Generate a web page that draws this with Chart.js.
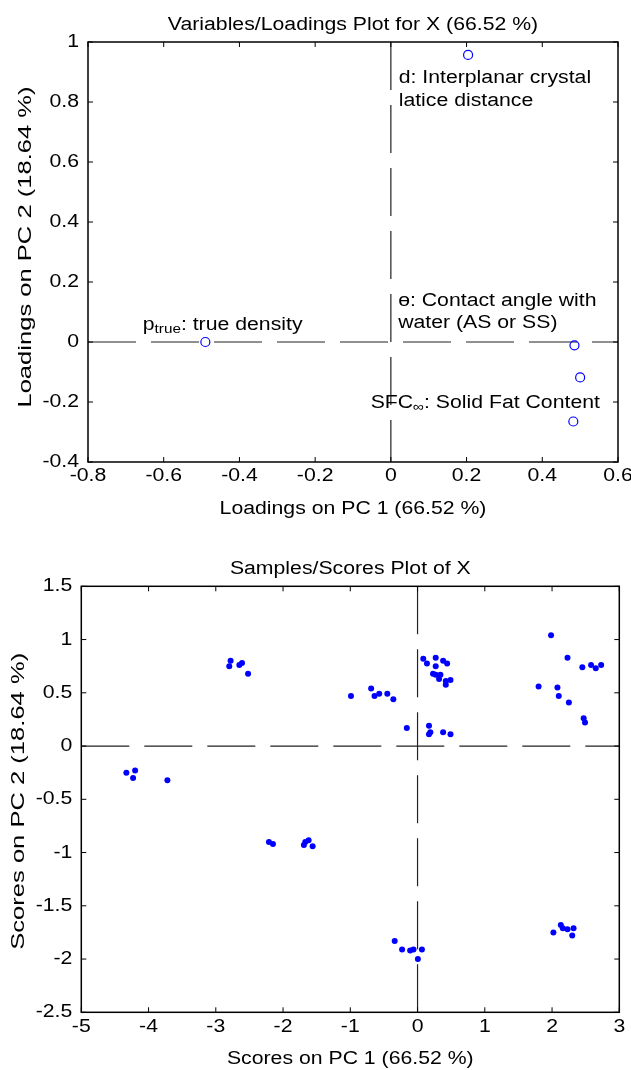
<!DOCTYPE html>
<html>
<head>
<meta charset="utf-8">
<script src="https://cdn.jsdelivr.net/npm/chart.js@4.4.0/dist/chart.umd.min.js"></script>
<style>
  body { margin: 0; background: #fff; }
  .wrap { position: absolute; left: 0; width: 631px; }
  #topWrap { top: 0; height: 530px; }
  #botWrap { top: 530px; height: 540px; }
</style>
</head>
<body>
<div class="wrap" id="topWrap"><canvas id="loadingsChart" width="631" height="530"></canvas></div>
<div class="wrap" id="botWrap"><canvas id="scoresChart" width="631" height="540"></canvas></div>

<script>
// ----- data: loadings -----
const loadingNames = ["p_{true}: true density", "d: Interplanar crystal\nlatice distance",
    "ɵ: Contact angle with\nwater (AS or SS)", "", "SFC_{∞}: Solid Fat Content"];
const loadingsPC1 = [-0.49, 0.204, 0.485, 0.50, 0.482];
const loadingsPC2 = [0.0, 0.957, -0.011, -0.118, -0.265];

// ----- data: scores -----
const scoresPC1 = [-4.33, -4.20, -4.23, -3.72, -2.78, -2.80, -2.65, -2.61, -2.52,
    -2.21, -2.15, -1.69, -1.67, -1.62, -1.56, -0.99, -0.69, -0.64, -0.57, -0.45,
    -0.36, -0.16, -0.34, -0.23, -0.11, -0.06, 0.065, 0.005, 0.085, 0.14, 0.27, 0.27,
    0.38, 0.44, 0.23, 0.27, 0.34, 0.32, 0.42, 0.42, 0.49, 0.17, 0.19, 0.17, 0.38,
    0.49, 1.985, 2.23, 2.45, 2.58, 2.65, 2.73, 1.80, 2.08, 2.10, 2.25, 2.47, 2.49,
    2.02, 2.13, 2.16, 2.23, 2.32, 2.30];
const scoresPC2 = [-0.25, -0.23, -0.30, -0.32, 0.80, 0.75, 0.76, 0.78, 0.68,
    -0.90, -0.92, -0.93, -0.90, -0.885, -0.94, 0.47, 0.54, 0.47, 0.49, 0.49,
    0.44, 0.17, -1.83, -1.91, -1.92, -1.91, -1.91, -2.00, 0.82, 0.775, 0.83, 0.75,
    0.80, 0.775, 0.68, 0.67, 0.67, 0.63, 0.61, 0.575, 0.62, 0.19, 0.13, 0.11, 0.13,
    0.11, 1.04, 0.83, 0.74, 0.76, 0.73, 0.76, 0.56, 0.55, 0.47, 0.41, 0.26, 0.22,
    -1.75, -1.68, -1.71, -1.72, -1.71, -1.78];

// axis ranges / tick steps
const loadXRange = [-0.8, 0.6], loadYRange = [-0.4, 1], loadStep = 0.2;
const scoreXRange = [-5, 3], scoreYRange = [-2.5, 1.5];
const scoreXStep = 1, scoreYStep = 0.5;

const FONT = '"Liberation Sans", Arial, Helvetica, sans-serif';
const FSIZE = 18;
const SX = 1.18;     // stretch of horizontal text in the original figure
const SY = 1.42;     // stretch of rotated text along its length
const TICK = 5;

function fmt(v) {
    return String(Math.round(v * 100) / 100);
}

// draws text that may contain _{sub} pieces, stretched along its length
function richText(ctx, str, x, y, align, size, stretch = SX) {
    const parts = [];
    str.replace(/([^_]+)|_\{([^}]*)\}/g, (m, normal, sub) => {
        if (normal) parts.push({ t: normal, sub: false });
        else parts.push({ t: sub, sub: true });
    });
    let total = 0;
    parts.forEach(p => {
        ctx.font = `${p.sub ? size * 0.72 : size}px ${FONT}`;
        p.w = ctx.measureText(p.t).width;
        total += p.w;
    });
    ctx.save();
    ctx.translate(x, y);
    ctx.scale(stretch, 1);
    let cx = align === "center" ? -total / 2 : align === "right" ? -total : 0;
    ctx.textAlign = "left";
    parts.forEach(p => {
        ctx.font = `${p.sub ? size * 0.72 : size}px ${FONT}`;
        ctx.fillText(p.t, cx, p.sub ? size * 0.2 : 0);
        cx += p.w;
    });
    ctx.restore();
}

const framePlugin = {
    id: "frame",
    afterDraw(chart, args, opts) {
        const { ctx, chartArea: a, scales: { x, y } } = chart;
        ctx.save();
        ctx.strokeStyle = "#000";
        ctx.lineWidth = 1;
        ctx.beginPath();
        x.ticks.forEach(t => {
            const px = x.getPixelForValue(t.value);
            ctx.moveTo(px, a.bottom); ctx.lineTo(px, a.bottom - TICK);
            ctx.moveTo(px, a.top); ctx.lineTo(px, a.top + TICK);
        });
        y.ticks.forEach(t => {
            const py = y.getPixelForValue(t.value);
            ctx.moveTo(a.left, py); ctx.lineTo(a.left + TICK, py);
            ctx.moveTo(a.right, py); ctx.lineTo(a.right - TICK, py);
        });
        ctx.stroke();
        ctx.lineWidth = 1.5;
        ctx.strokeRect(a.left, a.top, a.right - a.left, a.bottom - a.top);

        ctx.fillStyle = "#000";
        ctx.textBaseline = "middle";
        x.ticks.forEach(t => {
            richText(ctx, fmt(t.value), x.getPixelForValue(t.value), a.bottom + 14.5, "center", FSIZE);
        });
        y.ticks.forEach(t => {
            richText(ctx, fmt(t.value), a.left - 9, y.getPixelForValue(t.value), "right", FSIZE);
        });

        const midX = (a.left + a.right) / 2;
        richText(ctx, opts.title, midX, a.top - 17, "center", FSIZE);
        richText(ctx, opts.xTitle, midX, a.bottom + 47, "center", FSIZE);

        ctx.save();
        ctx.translate(opts.yTitleX, (a.top + a.bottom) / 2 + opts.yTitleShift);
        ctx.rotate(-Math.PI / 2);
        richText(ctx, opts.yTitle, 0, 0, "center", FSIZE, SY);
        ctx.restore();
        ctx.restore();
    }
};

// text labels next to the loading points
const pointLabelPlugin = {
    id: "pointLabels",
    afterDatasetsDraw(chart, args, opts) {
        const { ctx } = chart;
        const pts = chart.getDatasetMeta(0).data;
        ctx.save();
        ctx.fillStyle = "#000";
        ctx.textBaseline = "alphabetic";
        opts.names.forEach((name, i) => {
            if (!name) return;
            const off = opts.offsets[i];
            name.split("\n").forEach((line, k) => {
                richText(ctx, line, pts[i].x + off[0], pts[i].y + off[1] + k * 22.6, "left", FSIZE);
            });
        });
        ctx.restore();
    }
};

function baseScales(xr, yr, xs, ys, yWidth, xHeight) {
    return {
        x: {
            type: "linear", min: xr[0], max: xr[1],
            ticks: { display: false, stepSize: xs },
            grid: { display: false }, border: { display: false },
            afterFit: s => { s.height = xHeight; }
        },
        y: {
            type: "linear", min: yr[0], max: yr[1],
            ticks: { display: false, stepSize: ys },
            grid: { display: false }, border: { display: false },
            afterFit: s => { s.width = yWidth; }
        }
    };
}

function zeroLines(xr, yr) {
    const style = { type: "line", borderColor: "#222", borderWidth: 1.2, borderDash: [48, 15],
        pointRadius: 0, fill: false, tension: 0 };
    return [
        Object.assign({ data: [{ x: xr[0], y: 0 }, { x: xr[1], y: 0 }] }, style),
        Object.assign({ data: [{ x: 0, y: yr[1] }, { x: 0, y: yr[0] }] }, style)
    ];
}

const commonOpts = {
    responsive: false,
    animation: false,
    events: [],
    plugins: { legend: { display: false }, tooltip: { enabled: false }, title: { display: false } }
};

new Chart(document.getElementById("loadingsChart").getContext("2d"), {
    type: "scatter",
    data: {
        datasets: [{
            data: loadingsPC1.map((v, i) => ({ x: v, y: loadingsPC2[i] })),
            pointStyle: "circle", pointRadius: 4.5, borderWidth: 1.2,
            borderColor: "#0000ff", backgroundColor: "rgba(255,255,255,0)"
        }, ...zeroLines(loadXRange, loadYRange)]
    },
    options: {
        ...commonOpts,
        layout: { padding: { top: 42, right: 13, left: 0, bottom: 0 } },
        scales: baseScales(loadXRange, loadYRange, loadStep, loadStep, 88, 68),
        plugins: {
            ...commonOpts.plugins,
            frame: {
                title: "Variables/Loadings Plot for X (66.52 %)",
                xTitle: "Loadings on PC 1 (66.52 %)",
                yTitle: "Loadings on PC 2 (18.64 %)",
                yTitleX: 26,
                yTitleShift: -5
            },
            pointLabels: {
                names: loadingNames,
                offsets: [[-62.6, -12.3], [-69.4, 28.4], [-176.3, -39.7], null, [-202.7, -14]]
            }
        }
    },
    plugins: [framePlugin, pointLabelPlugin]
});

new Chart(document.getElementById("scoresChart").getContext("2d"), {
    type: "scatter",
    data: {
        datasets: [{
            data: scoresPC1.map((v, i) => ({ x: v, y: scoresPC2[i] })),
            pointStyle: "circle", pointRadius: 3, borderWidth: 0,
            backgroundColor: "#0000ff"
        }, ...zeroLines(scoreXRange, scoreYRange)]
    },
    options: {
        ...commonOpts,
        layout: { padding: { top: 56.3, right: 11.7, left: 0, bottom: 0 } },
        scales: baseScales(scoreXRange, scoreYRange, scoreXStep, scoreYStep, 81.3, 57.7),
        plugins: {
            ...commonOpts.plugins,
            frame: {
                title: "Samples/Scores Plot of X",
                xTitle: "Scores on PC 1 (66.52 %)",
                yTitle: "Scores on PC 2 (18.64 %)",
                yTitleX: 19,
                yTitleShift: 2
            }
        }
    },
    plugins: [framePlugin]
});
</script>
</body>
</html>
